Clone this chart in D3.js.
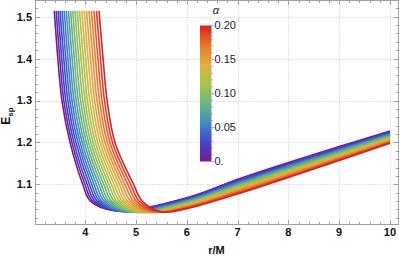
<!DOCTYPE html>
<html>
<head>
<meta charset="utf-8">
<script src="https://cdn.jsdelivr.net/npm/d3@7"></script>
<style>
  body { margin: 0; background: #fff; }
  svg { display: block; }
  text { font-family: "Liberation Sans", Arial, sans-serif; }
</style>
</head>
<body>
<div id="chart"></div>
<script>
// alpha value of each curve (purple -> red)
const alphas = [0, 0.01, 0.02, 0.03, 0.04, 0.05, 0.06, 0.07, 0.08, 0.09, 0.10,
                0.11, 0.12, 0.13, 0.14, 0.15, 0.16, 0.17, 0.18, 0.19, 0.20];

// left (steep) branch: r/M where each curve meets a given E_sp level
const leftE = [1.514, 1.4, 1.3, 1.2, 1.1, 1.06];
const rAt1514 = [3.390, 3.428, 3.467, 3.505, 3.545, 3.585, 3.627, 3.668, 3.710, 3.753, 3.797,
                 3.841, 3.886, 3.932, 3.979, 4.025, 4.073, 4.121, 4.171, 4.220, 4.270];
const rAt140 = [3.460, 3.498, 3.537, 3.577, 3.617, 3.658, 3.699, 3.741, 3.784, 3.828, 3.872,
                3.917, 3.962, 4.008, 4.055, 4.103, 4.151, 4.200, 4.249, 4.299, 4.350];
const rAt130 = [3.540, 3.578, 3.617, 3.657, 3.697, 3.738, 3.779, 3.821, 3.864, 3.908, 3.952,
                3.997, 4.042, 4.088, 4.135, 4.183, 4.231, 4.280, 4.329, 4.379, 4.430];
const rAt120 = [3.700, 3.738, 3.777, 3.816, 3.856, 3.897, 3.938, 3.980, 4.022, 4.066, 4.110,
                4.154, 4.199, 4.245, 4.292, 4.339, 4.387, 4.435, 4.485, 4.535, 4.585];
const rAt110 = [3.950, 3.993, 4.037, 4.081, 4.126, 4.172, 4.219, 4.266, 4.314, 4.363, 4.413,
                4.463, 4.514, 4.566, 4.619, 4.672, 4.726, 4.781, 4.837, 4.893, 4.950];
const rAt106 = [4.100, 4.144, 4.189, 4.234, 4.280, 4.326, 4.374, 4.422, 4.471, 4.521, 4.572,
                4.623, 4.675, 4.728, 4.782, 4.836, 4.892, 4.948, 5.005, 5.062, 5.120];

// minimum of each curve
const rMin = [4.600, 4.639, 4.678, 4.718, 4.758, 4.800, 4.842, 4.884, 4.928, 4.972, 5.017,
              5.062, 5.108, 5.154, 5.202, 5.250, 5.298, 5.348, 5.398, 5.449, 5.500];
const eMin = [1.0370, 1.0365, 1.0360, 1.0355, 1.0350, 1.0347, 1.0344, 1.0341, 1.0339, 1.0337, 1.0336,
              1.0335, 1.0335, 1.0335, 1.0336, 1.0337, 1.0338, 1.0340, 1.0342, 1.0344, 1.0346];

// right branch: E_sp at r/M = 6..10
const rightR = [6, 7, 8, 9, 10];
const eAt6 = [1.0680, 1.0667, 1.0654, 1.0641, 1.0628, 1.0615, 1.0602, 1.0589, 1.0576, 1.0563, 1.0550,
              1.0537, 1.0524, 1.0511, 1.0498, 1.0485, 1.0472, 1.0459, 1.0446, 1.0433, 1.0420];
const eAt7 = [1.1120, 1.1103, 1.1085, 1.1068, 1.1050, 1.1033, 1.1015, 1.0998, 1.0980, 1.0963, 1.0945,
              1.0928, 1.0910, 1.0893, 1.0875, 1.0858, 1.0840, 1.0823, 1.0805, 1.0788, 1.0770];
const eAt8 = [1.1520, 1.1502, 1.1485, 1.1467, 1.1449, 1.1431, 1.1414, 1.1396, 1.1378, 1.1360, 1.1343,
              1.1325, 1.1307, 1.1289, 1.1272, 1.1254, 1.1236, 1.1218, 1.1201, 1.1183, 1.1165];
const eAt9 = [1.1900, 1.1884, 1.1867, 1.1851, 1.1834, 1.1818, 1.1801, 1.1785, 1.1768, 1.1752, 1.1735,
              1.1719, 1.1702, 1.1686, 1.1669, 1.1653, 1.1636, 1.1620, 1.1603, 1.1587, 1.1570];
const eAt10 = [1.2270, 1.2256, 1.2241, 1.2227, 1.2212, 1.2198, 1.2183, 1.2169, 1.2154, 1.2140, 1.2125,
               1.2111, 1.2096, 1.2082, 1.2067, 1.2053, 1.2038, 1.2024, 1.2009, 1.1995, 1.1980];

// ticks
const xTicks = [4, 5, 6, 7, 8, 9, 10];
const yTicks = [1.1, 1.2, 1.3, 1.4, 1.5];
const legendTicks = [0, 0.05, 0.10, 0.15, 0.20];
const legendLabels = ["0.", "0.05", "0.10", "0.15", "0.20"];

// Rainbow colour scheme stops
const rainbow = ["#781c86", "#4047d1", "#448cc3", "#6bb67e", "#aac24c", "#ddb23f", "#e6762e", "#da2122"];

const width = 399, height = 256;
const frame = { left: 35.5, right: 398.5, top: 0.5, bottom: 224.5 };

const svg = d3.select("#chart").append("svg")
  .attr("width", width)
  .attr("height", height);

const xScale = d3.scaleLinear().domain([3.01, 10.17]).range([35, 398.6]);
const yScale = d3.scaleLinear().domain([1.0053, 1.5399]).range([224, 0]);

const colorOf = d3.scaleLinear()
  .domain(d3.range(rainbow.length).map(k => 0.2 * k / (rainbow.length - 1)))
  .range(rainbow)
  .interpolate(d3.interpolateRgb);

// grid lines (dotted)
const grid = svg.append("g").attr("stroke", "#c4c4c4").attr("stroke-width", 1)
  .attr("stroke-dasharray", "1,2");
xTicks.forEach(t => {
  const x = Math.round(xScale(t)) + 0.5;
  grid.append("line").attr("x1", x).attr("x2", x).attr("y1", frame.top).attr("y2", frame.bottom);
});
yTicks.forEach(t => {
  const y = Math.round(yScale(t)) + 0.5;
  grid.append("line").attr("x1", frame.left).attr("x2", frame.right).attr("y1", y).attr("y2", y);
});

// colour legend
const barX = 200, barW = 11.5;
const legendY = d3.scaleLinear().domain([0, 0.2]).range([161.5, 25.5]);
const defs = svg.append("defs");
const grad = defs.append("linearGradient").attr("id", "rainbowGrad")
  .attr("x1", 0).attr("y1", 1).attr("x2", 0).attr("y2", 0);
rainbow.forEach((c, k) => {
  grad.append("stop").attr("offset", k / (rainbow.length - 1)).attr("stop-color", c);
});
svg.append("rect")
  .attr("x", barX).attr("y", legendY(0.2))
  .attr("width", barW).attr("height", legendY(0) - legendY(0.2))
  .attr("fill", "url(#rainbowGrad)");

// legend ticks: minor every 0.01, longer at labels
svg.append("g").attr("stroke", "#999").attr("stroke-width", 0.8)
  .selectAll("line").data(alphas).enter().append("line")
  .attr("x1", barX + barW).attr("x2", d => barX + barW + (legendTicks.some(t => Math.abs(t - d) < 1e-9) ? 3 : 1.8))
  .attr("y1", d => legendY(d)).attr("y2", d => legendY(d));

svg.append("g").selectAll("text").data(legendTicks).enter().append("text")
  .attr("x", barX + barW + 3)
  .attr("y", d => legendY(d))
  .attr("dy", "0.36em")
  .attr("font-size", 11)
  .attr("fill", "#222")
  .text((d, i) => legendLabels[i]);

svg.append("text")
  .attr("x", 216).attr("y", 14)
  .attr("text-anchor", "middle")
  .attr("font-size", 11)
  .attr("font-style", "italic")
  .attr("fill", "#222")
  .text("α");

// curves
const line = d3.line()
  .x(d => xScale(d[0]))
  .y(d => yScale(d[1]))
  .curve(d3.curveCatmullRom.alpha(0.5));

const leftR = [rAt1514, rAt140, rAt130, rAt120, rAt110, rAt106];
const rightE = [eAt6, eAt7, eAt8, eAt9, eAt10];

const curves = alphas.map((a, i) => {
  const pts = leftE.map((e, k) => [leftR[k][i], e]);
  pts.push([rMin[i], eMin[i]]);
  rightR.forEach((r, k) => pts.push([r, rightE[k][i]]));
  return { alpha: a, pts: pts };
});

svg.append("g").selectAll("path").data(curves).enter().append("path")
  .attr("d", d => line(d.pts))
  .attr("fill", "none")
  .attr("stroke", d => colorOf(d.alpha))
  .attr("stroke-width", 1.6)
  .attr("stroke-linejoin", "round");

// frame
svg.append("rect")
  .attr("x", frame.left).attr("y", frame.top)
  .attr("width", frame.right - frame.left).attr("height", frame.bottom - frame.top)
  .attr("fill", "none").attr("stroke", "#a0a0a0").attr("stroke-width", 1);

// frame ticks (inward, all four sides)
const tickG = svg.append("g").attr("stroke", "#a0a0a0").attr("stroke-width", 1);
const xMinor = d3.range(16, 51).map(k => k / 5).filter(v => v > 3.01 && v < 10.17);
xMinor.forEach(v => {
  const major = Math.abs(v - Math.round(v)) < 1e-9;
  const len = major ? 4.5 : 2.5;
  const x = Math.round(xScale(v)) + 0.5;
  tickG.append("line").attr("x1", x).attr("x2", x).attr("y1", frame.bottom).attr("y2", frame.bottom - len);
  tickG.append("line").attr("x1", x).attr("x2", x).attr("y1", frame.top).attr("y2", frame.top + len);
});
const yMinor = d3.range(51, 77).map(k => k / 50).filter(v => v > 1.0053 && v < 1.5399);
yMinor.forEach(v => {
  const major = Math.abs(v * 10 - Math.round(v * 10)) < 1e-9;
  const len = major ? 4.5 : 2.5;
  const y = Math.round(yScale(v)) + 0.5;
  tickG.append("line").attr("x1", frame.left).attr("x2", frame.left + len).attr("y1", y).attr("y2", y);
  tickG.append("line").attr("x1", frame.right).attr("x2", frame.right - len).attr("y1", y).attr("y2", y);
});

// tick labels
svg.append("g").selectAll("text").data(xTicks).enter().append("text")
  .attr("x", d => xScale(d))
  .attr("y", 235.5)
  .attr("text-anchor", "middle")
  .attr("font-size", 11)
  .attr("font-weight", "bold")
  .attr("fill", "#111")
  .text(d => d);

svg.append("g").selectAll("text").data(yTicks).enter().append("text")
  .attr("x", 32)
  .attr("y", d => yScale(d))
  .attr("dy", "0.36em")
  .attr("text-anchor", "end")
  .attr("font-size", 11)
  .attr("font-weight", "bold")
  .attr("fill", "#111")
  .text(d => d.toFixed(1));

// axis titles
svg.append("text")
  .attr("x", 216.5).attr("y", 254)
  .attr("text-anchor", "middle")
  .attr("font-size", 11)
  .attr("font-weight", "bold")
  .attr("fill", "#111")
  .text("r/M");

const yTitle = svg.append("text")
  .attr("transform", "translate(9.5,116) rotate(-90)")
  .attr("text-anchor", "middle")
  .attr("font-weight", "bold")
  .attr("fill", "#111");
yTitle.append("tspan").attr("font-size", 12).text("E");
yTitle.append("tspan").attr("font-size", 8).attr("dy", 3).text("sp");
</script>
</body>
</html>
